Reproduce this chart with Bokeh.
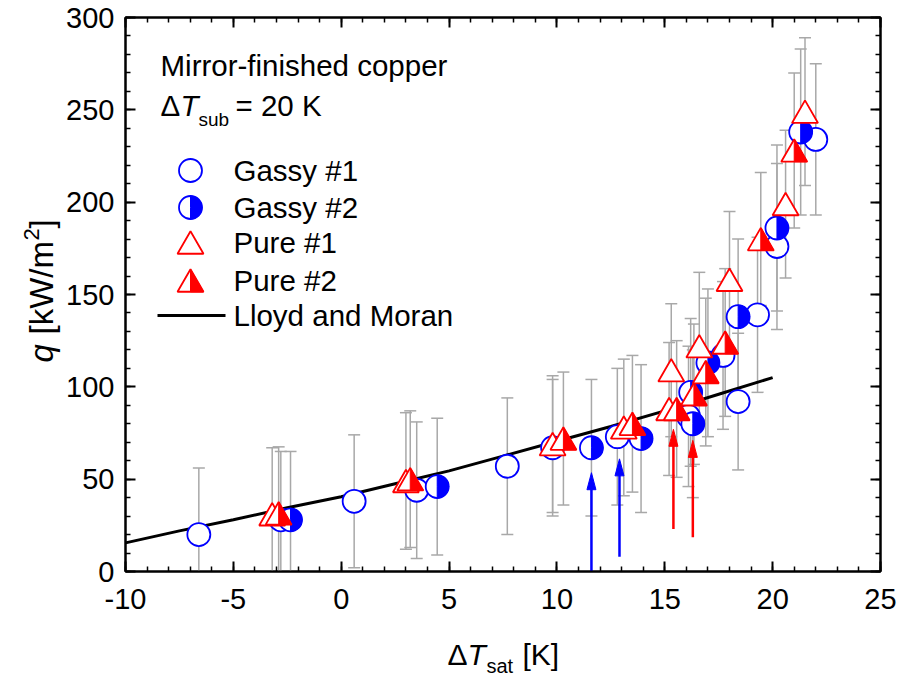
import numpy as np
from bokeh.plotting import figure
from bokeh.layouts import row, column
from bokeh.models import Range1d, LinearAxis, FixedTicker, Label
from bokeh.embed import file_html
from bokeh.resources import INLINE

# ---------------- data ----------------
gassy1_dT = [-6.6, -2.8, 0.6, 3.5, 7.7, 9.8, 12.8, 16.1, 17.7, 18.4, 19.3, 20.2, 22.0]
gassy1_q = [20, 28, 38, 44, 57, 67, 73, 84, 117, 92, 139, 176, 234]
gassy1_err = [36, 37, 36, 37, 37, 37, 37, 38, 40, 37, 42, 45, 41]

gassy2_dT = [-2.35, 4.45, 11.6, 13.9, 16.3, 16.2, 17.0, 18.4, 20.2, 21.3]
gassy2_q = [28, 46, 67, 72, 80, 97, 113, 138, 186, 238]
gassy2_err = [37, 37, 37, 40, 40, 40, 40, 42, 45, 45]

pure1_dT = [-3.2, 3.0, 9.8, 13.1, 15.3, 15.2, 16.6, 18.0, 20.6, 21.5]
pure1_q = [31, 49, 69, 78, 109, 88, 122, 158, 199, 249]
pure1_err = [36, 37, 37, 37, 36, 36, 40, 37, 40, 40]

pure2_dT = [-2.9, 3.2, 10.3, 13.5, 15.55, 16.35, 16.9, 17.8, 19.45, 21.0]
pure2_q = [31.5, 50, 72, 80, 88, 96, 108, 124, 180, 228]
pure2_err = [36, 37, 36, 37, 37, 38, 40, 40, 36, 42]

lm_dT = [-10, -7.5, -5, -2.5, 0, 2.5, 5, 7.5, 10, 12.5, 15, 17.5, 20]
lm_q = [15.5, 22, 28, 34.5, 40.5, 47.5, 54.5, 62.5, 70.5, 78.5, 87, 96, 105]

arrow_dT = [11.6, 12.9, 15.4, 16.3]
arrow_q_from = [0, 8, 23, 18.5]
arrow_q_to = [53.5, 61, 77, 71]
arrow_colors = ["#0000FF", "#0000FF", "#FF0000", "#FF0000"]

x_ticks = [-10, -5, 0, 5, 10, 15, 20, 25]
x_tick_labels = ["-10", "-5", "0", "5", "10", "15", "20", "25"]
y_ticks = [0, 50, 100, 150, 200, 250, 300]
legend_labels = ["Gassy #1", "Gassy #2", "Pure #1", "Pure #2", "Lloyd and Moran"]

# ---------------- layout / style ----------------
BLUE = "#0000FF"
RED = "#FF0000"
GRAY = "#A8A8A8"
FONT = "Liberation Sans"
X0, X1 = -10, 25
Y0, Y1 = 0, 300
W, H = 899, 677
FW, FH = 755, 554
YT_W = 62            # width of the strip holding the y-axis title
XT_H = 46            # height of the strip holding the x-axis title
L_B, R_B, T_B = 125, 19, 17
B_B = H - XT_H - T_B - FH
PXX = (X1 - X0) / FW  # data units per pixel (x)
PXY = (Y1 - Y0) / FH  # data units per pixel (y)

CIRC = 23
TRI_W = 26
TRI_H = TRI_W * np.sqrt(3) / 2
TXT = "29.5px"


def sx(px):  # canvas pixel -> data x
    return X0 + (px - L_B) * PXX


def sy(py):  # canvas pixel -> data y
    return Y0 + (T_B + FH - py) * PXY


p = figure(frame_width=FW, frame_height=FH,
           x_range=Range1d(X0, X1), y_range=Range1d(Y0, Y1),
           min_border_left=L_B - YT_W, min_border_right=R_B,
           min_border_top=T_B, min_border_bottom=B_B,
           output_backend="svg", toolbar_location=None, frame_align=False,
           background_fill_color="white", border_fill_color="white")
p.xgrid.visible = False
p.ygrid.visible = False
p.outline_line_color = "black"
p.outline_line_width = 2

x_minor = [float(v) for v in np.arange(X0, X1 + 0.5, 1.0)]
y_minor = [float(v) for v in np.arange(Y0, Y1 + 1, 10.0)]

p.add_layout(LinearAxis(), "above")
p.add_layout(LinearAxis(), "right")
for ax in p.xaxis:
    ax.ticker = FixedTicker(ticks=x_ticks, minor_ticks=x_minor)
for ax in p.yaxis:
    ax.ticker = FixedTicker(ticks=y_ticks, minor_ticks=y_minor)
for ax in p.axis:
    ax.axis_line_width = 2
    ax.axis_line_color = "black"
    ax.major_tick_in = 10
    ax.major_tick_out = 0
    ax.minor_tick_in = 5
    ax.minor_tick_out = 0
    ax.major_tick_line_width = 2
    ax.minor_tick_line_width = 1.5
    ax.major_label_text_font = FONT
    ax.major_label_text_font_size = "29px"
    ax.major_label_text_color = "black"
p.below[0].major_label_overrides = {t: s for t, s in zip(x_ticks, x_tick_labels)}
p.below[0].major_label_standoff = 17
p.left[0].major_label_standoff = 11
# mirror axes: ticks only
p.above[0].major_label_overrides = {t: "" for t in x_ticks}
p.right[0].major_label_overrides = {t: "" for t in y_ticks}
for ax in (p.above[0], p.right[0]):
    ax.major_label_text_font_size = "1px"
    ax.major_label_standoff = 0

# ---------------- error bars ----------------
all_x = gassy1_dT + gassy2_dT + pure1_dT + pure2_dT
all_q = gassy1_q + gassy2_q + pure1_q + pure2_q
all_e = gassy1_err + gassy2_err + pure1_err + pure2_err
lo = [q - e for q, e in zip(all_q, all_e)]
hi = [q + e for q, e in zip(all_q, all_e)]
p.segment(x0=all_x, y0=lo, x1=all_x, y1=hi, line_color=GRAY, line_width=1.5)
p.scatter(all_x, hi, marker="dash", size=12, line_color=GRAY, line_width=1.5)
p.scatter(all_x, lo, marker="dash", size=12, line_color=GRAY, line_width=1.5)

# ---------------- Lloyd and Moran ----------------
p.line(lm_dT, lm_q, line_color="black", line_width=3)


# ---------------- marker helpers ----------------
def open_circles(xs, ys):
    p.scatter(xs, ys, marker="circle", size=CIRC, fill_color="white",
              line_color=BLUE, line_width=1.8)


def half_circles(xs, ys):
    p.scatter(xs, ys, marker="circle", size=CIRC, fill_color="white",
              line_color=BLUE, line_width=1.8)
    p.wedge(xs, ys, radius=CIRC / 2, radius_units="screen",
            start_angle=-np.pi / 2, end_angle=np.pi / 2,
            fill_color=BLUE, line_color=BLUE, line_width=1.0)


def tri_shape(xs, ys, half=False):
    X, Y = [], []
    hw, hh = TRI_W / 2 * PXX, TRI_H / 2 * PXY
    for x, y in zip(xs, ys):
        X.append([x if half else x - hw, x + hw, x])
        Y.append([y - hh, y - hh, y + hh])
    return X, Y


def open_tris(xs, ys):
    X, Y = tri_shape(xs, ys)
    p.patches(X, Y, fill_color="white", line_color=RED, line_width=1.8)


def half_tris(xs, ys):
    X, Y = tri_shape(xs, ys)
    p.patches(X, Y, fill_color="white", line_color=RED, line_width=1.8)
    X, Y = tri_shape(xs, ys, half=True)
    p.patches(X, Y, fill_color=RED, line_color=RED, line_width=1.0)


open_circles(gassy1_dT, gassy1_q)
half_circles(gassy2_dT, gassy2_q)
open_tris(pure1_dT, pure1_q)
half_tris(pure2_dT, pure2_q)

# ---------------- arrows ----------------
HEAD_W, HEAD_L = 9, 17
for x, qa, qb, c in zip(arrow_dT, arrow_q_from, arrow_q_to, arrow_colors):
    p.segment(x0=[x], y0=[qa], x1=[x], y1=[qb - HEAD_L * PXY * 0.6],
              line_color=c, line_width=2.5)
    p.patch([x - HEAD_W / 2 * PXX, x + HEAD_W / 2 * PXX, x],
            [qb - HEAD_L * PXY, qb - HEAD_L * PXY, qb],
            fill_color=c, line_color=c, line_width=1)

# ---------------- legend (drawn by hand) ----------------
LEG_MX = 190
leg_rows = [170, 207, 242, 280, 315]
open_circles([sx(LEG_MX)], [sy(leg_rows[0])])
half_circles([sx(LEG_MX)], [sy(leg_rows[1])])
open_tris([sx(LEG_MX)], [sy(leg_rows[2])])
half_tris([sx(LEG_MX)], [sy(leg_rows[3])])
p.line([sx(157), sx(225)], [sy(leg_rows[4]), sy(leg_rows[4])],
       line_color="black", line_width=3)


def lab(fig, text, x, y, size, style="normal", angle=0.0):
    fig.add_layout(Label(x=x, y=y, x_units="screen", y_units="screen",
                         text=text, text_font=FONT, text_font_size=size,
                         text_font_style=style, text_color="black", angle=angle,
                         text_baseline="middle", text_align="left"))


def mlab(text, px, py, size, style="normal"):
    lab(p, text, px - L_B, T_B + FH - py, size, style)


for t, r in zip(legend_labels, leg_rows):
    mlab(t, 233, r, TXT)

mlab("Mirror-finished copper", 160, 65, TXT)
mlab("\u0394", 160, 105, TXT)
mlab("T", 180, 105, TXT, style="italic")
mlab("sub", 198, 119, "19px")
mlab("= 20 K", 235, 105, TXT)


# ---------------- axis-title strips ----------------
def strip(w, h):
    f = figure(width=w, height=h, x_range=Range1d(0, w), y_range=Range1d(0, h),
               min_border=0, min_border_left=0, min_border_right=0,
               min_border_top=0, min_border_bottom=0,
               toolbar_location=None, output_backend="svg", frame_align=False,
               x_axis_location=None, y_axis_location=None,
               outline_line_color=None, background_fill_color="white",
               border_fill_color="white")
    f.grid.visible = False
    return f


xt = strip(W - YT_W, XT_H)


def xlab(text, px, py, size, style="normal"):
    lab(xt, text, px - YT_W, H - py, size, style)


xlab("\u0394", 447, 654, "30px")
xlab("T", 467, 654, "30px", style="italic")
xlab("sat", 486, 665, "20px")
xlab("[K]", 522, 654, "30px")

yt = strip(YT_W, H)
a = np.pi / 2


def ylab(text, px, py, size, style="normal"):
    lab(yt, text, px, H - py, size, style, angle=a)


ylab("q", 41, 362, "33px", style="italic")
ylab("[kW/m", 41, 334, "33px")
ylab("2", 31, 240, "22px")
ylab("]", 41, 228, "33px")

layout = row(yt, column(p, xt, spacing=0), spacing=0)
open("out.html", "w").write(file_html(layout, INLINE))
